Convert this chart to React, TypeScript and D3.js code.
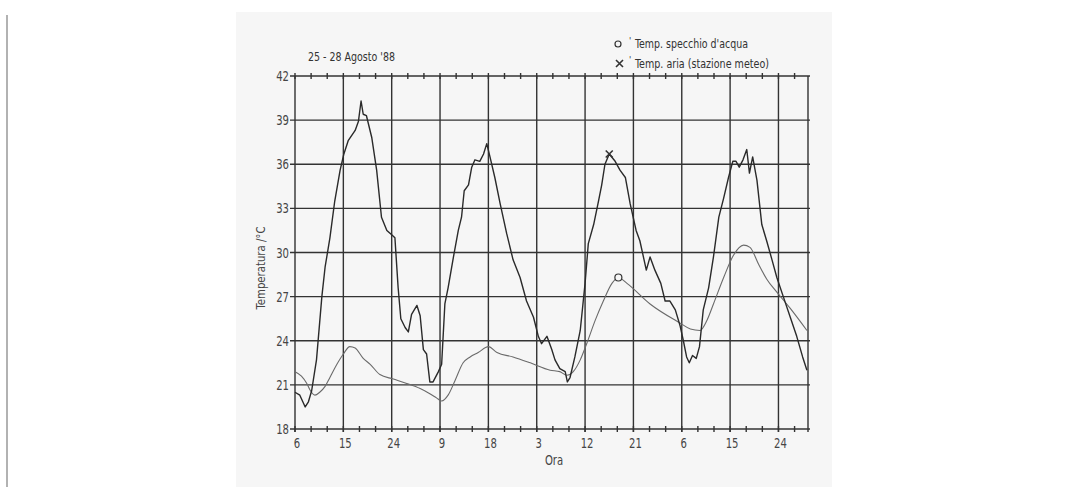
import React from "react";
import * as d3 from "d3";

// hours counted from 06:00 of 25 August
const airHours = [0, 0.9, 1.9, 2.5, 3.1, 4.0, 5.0, 5.6, 6.5, 7.4, 8.4, 9.1, 9.9, 11.2, 11.8, 12.3, 12.7, 13.3, 14.3, 15.2, 16.1, 17.1, 18.0, 18.6, 19.2, 19.7, 20.5, 21.1, 21.7, 22.7, 23.3, 23.9, 24.5, 25.1, 25.7, 26.7, 27.3, 27.9, 28.5, 29.5, 30.4, 31.0, 31.5, 32.3, 32.9, 33.5, 34.4, 35.1, 35.7, 36.3, 37.2, 38.2, 39.4, 40.6, 41.9, 43.1, 44.4, 45.3, 45.9, 46.9, 47.8, 48.4, 49.3, 50.3, 50.7, 51.2, 52.1, 53.1, 54.0, 54.6, 55.6, 56.5, 57.1, 57.7, 58.5, 59.6, 60.5, 61.5, 62.4, 63.5, 64.2, 65.4, 66.1, 67.0, 68.1, 68.9, 69.8, 70.8, 71.7, 72.3, 72.9, 73.4, 74.0, 74.7, 75.3, 76.0, 77.0, 77.9, 78.9, 79.8, 80.7, 81.5, 82.1, 82.7, 83.4, 84.1, 84.6, 85.2, 86.0, 86.9, 87.8, 88.8, 89.7, 90.9, 92.2, 93.4, 94.5, 95.3];
const airTemps = [20.5, 20.3, 19.5, 19.85, 20.6, 22.7, 27.0, 29.0, 31.0, 33.5, 35.6, 36.7, 37.6, 38.3, 38.9, 40.3, 39.4, 39.3, 37.8, 35.6, 32.4, 31.5, 31.2, 31.0, 27.6, 25.5, 24.9, 24.6, 25.8, 26.4, 25.7, 23.4, 23.1, 21.2, 21.2, 21.9, 22.4, 26.5, 27.6, 29.7, 31.5, 32.4, 34.2, 34.6, 35.8, 36.3, 36.2, 36.7, 37.4, 36.5, 35.1, 33.3, 31.3, 29.5, 28.3, 26.7, 25.6, 24.3, 23.8, 24.3, 23.4, 22.7, 22.1, 21.9, 21.2, 21.5, 22.9, 24.7, 27.9, 30.6, 31.9, 33.5, 34.6, 36.0, 36.7, 36.2, 35.6, 35.1, 33.3, 31.5, 30.8, 28.8, 29.7, 28.8, 27.9, 26.7, 26.7, 26.1, 25.0, 24.0, 22.9, 22.5, 23.0, 22.8, 23.6, 26.1, 27.6, 29.7, 32.4, 33.7, 35.1, 36.2, 36.2, 35.8, 36.3, 37.0, 35.4, 36.5, 34.9, 31.9, 30.8, 29.5, 28.3, 27.0, 25.6, 24.3, 22.9, 22.0];

const waterHours = [0, 1.2, 2.2, 2.8, 3.7, 4.6, 5.6, 6.5, 7.8, 9.0, 10.2, 11.2, 12.7, 14.0, 15.8, 18.3, 20.8, 23.3, 25.1, 26.4, 27.3, 28.5, 29.8, 31.3, 32.6, 34.1, 36.0, 37.6, 40.6, 43.8, 47.5, 49.3, 50.6, 51.8, 53.1, 54.3, 55.9, 57.4, 59.0, 60.2, 61.8, 66.1, 71.7, 73.6, 75.4, 76.7, 77.9, 79.8, 81.6, 83.5, 84.7, 86.3, 87.8, 89.7, 92.2, 95.3];
const waterTemps = [21.9, 21.6, 21.1, 20.65, 20.3, 20.5, 20.9, 21.5, 22.4, 23.1, 23.6, 23.5, 22.8, 22.4, 21.7, 21.4, 21.1, 20.75, 20.4, 20.1, 19.9, 20.3, 21.3, 22.5, 22.9, 23.2, 23.6, 23.2, 22.9, 22.5, 22.0, 21.9, 21.65, 21.9, 22.7, 23.8, 25.4, 26.7, 27.9, 28.3, 27.9, 26.5, 25.2, 24.8, 24.7, 25.4, 26.5, 28.3, 29.8, 30.5, 30.35, 29.2, 28.2, 27.3, 26.2, 24.7];

const xTickHours = [0, 9, 18, 27, 36, 45, 54, 63, 72, 81, 90];
const xTickLabels = ["6", "15", "24", "9", "18", "3", "12", "21", "6", "15", "24"];
const yTicks = [18, 21, 24, 27, 30, 33, 36, 39, 42];
const airMarkIndex = 74;   // × on the air curve
const waterMarkIndex = 39; // o on the water curve

const FONT = "'Liberation Sans Narrow', 'DejaVu Sans Condensed', sans-serif";
const INK = "#333";
const LABEL = "#454545";

// condensed text: squeeze horizontally around its anchor
function NText({ x, y, children, anchor = "start", size = 13, sx = 0.8, fill = LABEL }: any) {
  return (
    <text transform={`translate(${x},${y}) scale(${sx},1)`} textAnchor={anchor} fontFamily={FONT} fontSize={size} fill={fill}>
      {children}
    </text>
  );
}

export default function App() {
  const width = 1075, height = 487;
  const x = d3.scaleLinear().domain([0, 95.5]).range([295, 808]);
  const y = d3.scaleLinear().domain([18, 42]).range([429, 76]);

  const air = airHours.map((h, i) => [h, airTemps[i]] as [number, number]);
  const water = waterHours.map((h, i) => [h, waterTemps[i]] as [number, number]);

  const airLine = d3.line<[number, number]>().x(d => x(d[0])).y(d => y(d[1]));
  const waterLine = d3.line<[number, number]>().x(d => x(d[0])).y(d => y(d[1])).curve(d3.curveMonotoneX);

  const minorTicks = d3.range(0, 95, 3);
  const [x0, x1] = x.range();
  const [yb, yt] = y.range();

  const ax = x(air[airMarkIndex][0]), ay = y(air[airMarkIndex][1]);
  const wx = x(water[waterMarkIndex][0]), wy = y(water[waterMarkIndex][1]);

  return (
    <svg width={width} height={height} style={{ position: "absolute", left: 0, top: 0, background: "#fff" }}>
      <rect x={236} y={12} width={596} height={475} fill="#f6f6f6" />
      <line x1={7} x2={7} y1={15} y2={487} stroke="#999" strokeWidth={1.5} />

      <text x={308} y={61} fontFamily={FONT} fontSize={13} fill={INK} textLength={87} lengthAdjust="spacingAndGlyphs">25 - 28 Agosto '88</text>

      {/* legend */}
      <circle cx={618} cy={44} r={3} fill="none" stroke={INK} strokeWidth={1.2} />
      <text x={629} y={44} fontFamily={FONT} fontSize={9} fill={INK}>'</text>
      <text x={635} y={48} fontFamily={FONT} fontSize={13} fill={INK} textLength={113} lengthAdjust="spacingAndGlyphs">Temp. specchio d'acqua</text>
      <path d={`M616,60L623,67M623,60L616,67`} stroke={INK} strokeWidth={1.6} />
      <text x={629} y={63} fontFamily={FONT} fontSize={9} fill={INK}>'</text>
      <text x={635} y={68} fontFamily={FONT} fontSize={13} fill={INK} textLength={134} lengthAdjust="spacingAndGlyphs">Temp. aria (stazione meteo)</text>

      {/* grid */}
      {yTicks.map(t => (
        <line key={"h" + t} x1={x0 - 5} x2={x1 + 2} y1={y(t)} y2={y(t)} stroke={INK} strokeWidth={1.4} />
      ))}
      {xTickHours.map(h => (
        <line key={"v" + h} x1={x(h)} x2={x(h)} y1={yt} y2={yb + 3} stroke={INK} strokeWidth={1.4} />
      ))}
      <line x1={x1} x2={x1} y1={yt} y2={yb + 3} stroke={INK} strokeWidth={1.4} />
      {minorTicks.map(h => (
        <g key={"m" + h}>
          <line x1={x(h)} x2={x(h)} y1={yt - 3} y2={yt + 3} stroke={INK} strokeWidth={1.4} />
          <line x1={x(h)} x2={x(h)} y1={yb - 3} y2={yb + 3} stroke={INK} strokeWidth={1.4} />
        </g>
      ))}

      {/* axis labels */}
      {yTicks.map(t => (
        <NText key={"yl" + t} x={289} y={y(t) + 5} anchor="end" size={14}>{t}</NText>
      ))}
      {xTickHours.map((h, i) => (
        <NText key={"xl" + h} x={x(h) + 2} y={448} anchor="middle" size={14}>{xTickLabels[i]}</NText>
      ))}
      <NText x={554} y={465} anchor="middle" size={14}>Ora</NText>
      <text transform="translate(265,268) rotate(-90)" textAnchor="middle" fontFamily={FONT} fontSize={13} fill={LABEL} textLength={83} lengthAdjust="spacingAndGlyphs">Temperatura /°C</text>

      {/* series */}
      <path d={waterLine(water) || ""} fill="none" stroke="#6a6a6a" strokeWidth={1.1} />
      <path d={airLine(air) || ""} fill="none" stroke="#2a2a2a" strokeWidth={1.4} strokeLinejoin="round" />

      {/* markers */}
      <path d={`M${ax - 3.5},${ay - 3.5}L${ax + 3.5},${ay + 3.5}M${ax + 3.5},${ay - 3.5}L${ax - 3.5},${ay + 3.5}`} stroke={INK} strokeWidth={1.6} />
      <circle cx={wx} cy={wy} r={3.5} fill="#f6f6f6" stroke={INK} strokeWidth={1.2} />
    </svg>
  );
}
